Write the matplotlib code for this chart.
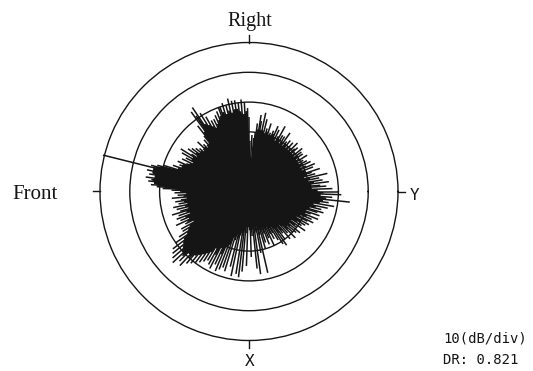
import numpy as np
import matplotlib
matplotlib.use("Agg")
import matplotlib.pyplot as plt

# Directional response level (dB), one value per degree, 0 deg = Y axis, counter-clockwise
level_q1 = [  # 0-89 deg
    30, 23, 28, 21, 26, 24, 21, 27, 22, 25,
    20, 24, 21, 27, 19, 23, 20, 22, 25, 20,
    20, 23, 19, 24, 21, 19, 23, 20, 22, 19,
    21, 19, 23, 20, 19, 22, 20, 22, 19, 23,
    20, 19, 22, 21, 19, 23, 20, 19, 22, 20,
    19, 22, 20, 21, 19, 24, 20, 22, 19, 22,
    20, 25, 21, 19, 23, 20, 24, 21, 22, 20,
    21, 20, 24, 21, 22, 20, 25, 21, 27, 21,
    24, 26, 21, 23, 20, 18, 8, 19, 8, 17,
]
level_q2 = [  # 90-179 deg
    25, 28, 27, 30, 26, 31, 27, 30, 28, 31,
    28, 31, 27, 32, 28, 30, 27, 31, 28, 30,
    30, 27, 29, 26, 28, 25, 27, 24, 27, 25,
    29, 26, 31, 27, 34, 31, 33, 25, 28, 24,
    21, 23, 21, 20, 22, 21, 24, 21, 20, 22,
    21, 23, 21, 24, 22, 25, 21, 23, 27, 22,
    26, 22, 24, 21, 25, 22, 23, 26, 24, 25,
    24, 27, 25, 30, 32, 34, 50.5, 33, 35, 33,
    34, 32, 35, 33, 34, 32, 33, 31, 29, 26,
]
level_q3 = [  # 180-269 deg
    23, 25, 21, 24, 22, 26, 21, 23, 25, 22,
    24, 21, 26, 22, 25, 21, 24, 27, 22, 25,
    21, 26, 23, 25, 22, 27, 23, 24, 21, 26,
    23, 26, 24, 28, 25, 30, 27, 32, 28, 33,
    29, 34, 30, 35, 31, 33, 29, 34, 30, 32,
    28, 31, 27, 30, 26, 29, 25, 28, 24, 27,
    22, 28, 24, 29, 21, 27, 23, 29, 20, 28,
    19, 27, 16, 28, 17, 15, 26, 16, 29, 15,
    14, 28, 15, 29, 13, 27, 12, 14, 25, 12,
]
level_q4 = [  # 270-359 deg
    11, 13, 22, 12, 15, 11, 26, 13, 28, 12,
    14, 21, 12, 28, 15, 13, 20, 14, 18, 13,
    15, 19, 13, 17, 14, 20, 13, 16, 18, 14,
    16, 19, 14, 21, 15, 22, 17, 20, 15, 18,
    17, 21, 15, 19, 16, 22, 18, 20, 17, 21,
    18, 22, 17, 20, 19, 23, 17, 21, 19, 22,
    20, 23, 18, 22, 24, 19, 23, 21, 25, 20,
    22, 25, 20, 24, 26, 21, 25, 23, 27, 22,
    29, 24, 27, 25, 34, 26, 28, 24, 31, 25,
]

ring_db = [10, 20, 30, 40]
r_max = 50
axis_angles = [0, 90, 180, 270]
axis_labels = ["Y", "Right", "Front", "X"]
scale_text = "10(dB/div)"
dr_text = "DR: 0.821"

ink = "#151515"
W, H = 533, 371
fig = plt.figure(figsize=(W / 100, H / 100), dpi=100, facecolor="white")

cx, cy, R = 249, 191.5, 149
ax = fig.add_axes([(cx - R) / W, (H - cy - R) / H, 2 * R / W, 2 * R / H],
                  projection="polar")
ax.set_ylim(0, r_max)
ax.set_rticks(ring_db)
ax.set_yticklabels([])
ax.set_xticks([])
ax.xaxis.grid(False)
ax.yaxis.grid(True, color=ink, lw=1.0)
ax.spines["polar"].set_color(ink)
ax.spines["polar"].set_linewidth(1.0)

level = np.array(level_q1 + level_q2 + level_q3 + level_q4, dtype=float)
theta = np.deg2rad(np.arange(len(level)))

# solid core: the level reached by every neighbouring direction
core = np.minimum(np.minimum(np.roll(level, 1), level), np.roll(level, -1))
ax.fill(np.append(theta, theta[0]), np.append(core, core[0]),
        color=ink, lw=0, zorder=2)
ax.vlines(theta, 0, level, colors=ink, lw=1.1, zorder=3, clip_on=False)

# short outward ticks on the four axes
for a in axis_angles:
    t = np.deg2rad(a)
    ax.plot([t, t], [r_max, r_max * 1.05], color=ink, lw=1.0, clip_on=False)

serif = "Liberation Serif"
mono = "DejaVu Sans Mono"


def px(x, y):
    return x / W, 1 - y / H


fig.text(*px(250, 26), axis_labels[1], family=serif, fontsize=14.5,
         ha="center", va="baseline", color=ink)
fig.text(*px(12, 199), axis_labels[2], family=serif, fontsize=15,
         ha="left", va="baseline", color=ink)
fig.text(*px(410, 200), axis_labels[0], family=mono, fontsize=11.5,
         ha="left", va="baseline", color=ink)
fig.text(*px(250, 366), axis_labels[3], family=mono, fontsize=11.5,
         ha="center", va="baseline", color=ink)
fig.text(*px(443, 343), scale_text, family=mono, fontsize=10,
         ha="left", va="baseline", color=ink)
fig.text(*px(443, 364), dr_text, family=mono, fontsize=10,
         ha="left", va="baseline", color=ink)

fig.savefig("out.png", dpi=100, facecolor="white")
